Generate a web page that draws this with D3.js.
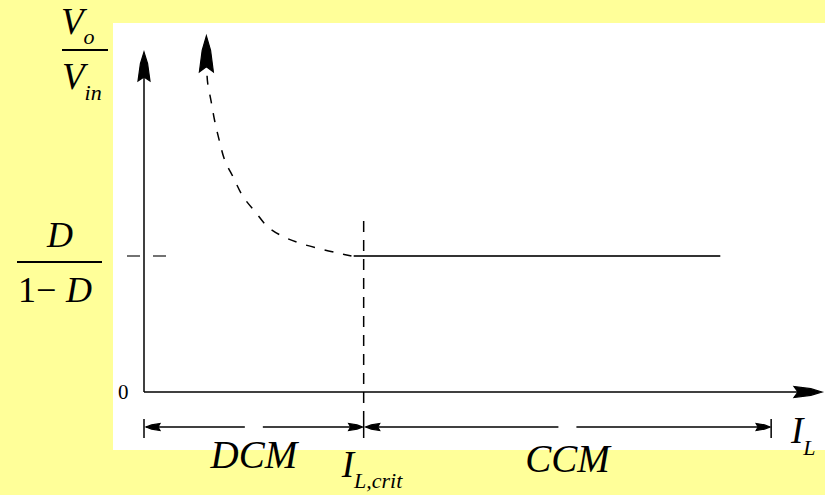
<!DOCTYPE html>
<html>
<head>
<meta charset="utf-8">
<script src="https://cdn.jsdelivr.net/npm/d3@7"></script>
<style>
  body { margin: 0; background: #ffff99; }
  svg { display: block; }
</style>
</head>
<body>
<svg id="chart" width="825" height="495"></svg>
<script>
// DCM branch of the curve (I_L, Vo/Vin)
var dcmX = [0.93, 0.94, 0.99, 1.04, 1.11, 1.19, 1.32, 1.46, 1.64, 1.83, 2.05, 2.30, 2.62, 2.89, 3.06];
var dcmY = [3.72, 3.63, 3.42, 3.20, 2.96, 2.73, 2.52, 2.30, 2.12, 1.94, 1.83, 1.75, 1.68, 1.63, 1.60];
var dcmTip = [0.92, 4.19];

// CCM branch: flat at D/(1-D)
var iCrit = 3.24;
var ccmLevel = 1.60;
var ccmEnd = 8.50;
var rangeEnd = 9.25;

var xMax = 10;
var yMax = 4;
var modeNames = ['DCM', 'CCM'];
var zeroLabel = '0';

var svg = d3.select('#chart');

var x = d3.scaleLinear().domain([0, xMax]).range([144, 822]);
var y = d3.scaleLinear().domain([0, yMax]).range([392, 52]);

// white plot panel
svg.append('rect')
  .attr('x', 113).attr('y', 23)
  .attr('width', 712).attr('height', 427)
  .attr('fill', '#fff');

function arrow(px, py, angle, len, half) {
  var p = 'M0,0 L' + (-len * 0.4) + ',' + (-half * 0.6) +
    ' L' + (-len) + ',' + (-half) +
    ' L' + (-len * 0.86) + ',0' +
    ' L' + (-len) + ',' + half +
    ' L' + (-len * 0.4) + ',' + (half * 0.6) + 'Z';
  svg.append('path')
    .attr('d', p)
    .attr('fill', '#000')
    .attr('stroke', '#000')
    .attr('stroke-width', 1.2)
    .attr('transform', 'translate(' + px + ',' + py + ') rotate(' + angle + ')');
}

function addText(px, py, size) {
  return svg.append('text')
    .attr('x', px).attr('y', py)
    .style('font-family', "'Liberation Serif'")
    .style('font-size', size + 'px')
    .style('fill', '#000');
}

// axes
svg.append('line')
  .attr('x1', x(0)).attr('y1', y(0))
  .attr('x2', x(xMax) - 20).attr('y2', y(0))
  .attr('stroke', '#000').attr('stroke-width', 1.5);
arrow(x(xMax), y(0), 0, 28, 5.5);

svg.append('line')
  .attr('x1', x(0)).attr('y1', y(0))
  .attr('x2', x(0)).attr('y2', y(yMax) + 20)
  .attr('stroke', '#000').attr('stroke-width', 1.5);
arrow(x(0), y(yMax), -90, 29, 6);

// dashed tick at D/(1-D) on the y axis
svg.append('line')
  .attr('x1', x(0) - 17).attr('y1', y(ccmLevel))
  .attr('x2', x(0) + 22).attr('y2', y(ccmLevel))
  .attr('stroke', '#444').attr('stroke-width', 1.5)
  .attr('stroke-dasharray', '13,13');

// DCM curve
var pts = dcmX.map(function (d, i) { return [d, dcmY[i]]; });
var line = d3.line()
  .x(function (d) { return x(d[0]); })
  .y(function (d) { return y(d[1]); })
  .curve(d3.curveCatmullRom);

svg.append('path')
  .attr('d', line(pts))
  .attr('fill', 'none')
  .attr('stroke', '#000')
  .attr('stroke-width', 1.5)
  .attr('stroke-dasharray', '9,10');
arrow(x(dcmTip[0]), y(dcmTip[1]), -90, 36, 7);

// CCM flat line
svg.append('line')
  .attr('x1', x(iCrit) - 10).attr('y1', y(ccmLevel))
  .attr('x2', x(ccmEnd)).attr('y2', y(ccmLevel))
  .attr('stroke', '#333').attr('stroke-width', 2);

// critical current boundary
var dimY = y(0) + 35;
svg.append('line')
  .attr('x1', x(iCrit)).attr('y1', y(ccmLevel) - 35)
  .attr('x2', x(iCrit)).attr('y2', dimY - 9)
  .attr('stroke', '#000').attr('stroke-width', 1.5)
  .attr('stroke-dasharray', '11,8');
svg.append('line')
  .attr('x1', x(iCrit)).attr('y1', dimY - 9)
  .attr('x2', x(iCrit)).attr('y2', dimY + 11)
  .attr('stroke', '#000').attr('stroke-width', 1.5);

// dimension lines for the two modes
[[0, iCrit], [iCrit, rangeEnd]].forEach(function (r) {
  var a = x(r[0]), b = x(r[1]), m = (a + b) / 2;
  [[a + 2, m - 9], [m + 9, b - 2]].forEach(function (s) {
    svg.append('line')
      .attr('x1', s[0]).attr('y1', dimY)
      .attr('x2', s[1]).attr('y2', dimY)
      .attr('stroke', '#000').attr('stroke-width', 1.5);
  });
  arrow(a + 2, dimY, 180, 14, 3.5);
  arrow(b - 1, dimY, 0, 14, 3.5);
  [a, b].forEach(function (t) {
    if (t === x(iCrit)) return;
    svg.append('line')
      .attr('x1', t).attr('y1', dimY - 8)
      .attr('x2', t).attr('y2', dimY + 11)
      .attr('stroke', '#000').attr('stroke-width', 1.5);
  });
});

// labels
addText(118, y(0) + 7, 21).text(zeroLabel);

var modeX = [(x(0) + x(iCrit)) / 2, (x(iCrit) + x(rangeEnd)) / 2];
var modeBase = [468, 472];
modeNames.forEach(function (m, i) {
  addText(modeX[i], modeBase[i], 39)
    .attr('text-anchor', 'middle')
    .style('font-style', 'italic')
    .text(m);
});

function subText(px, py, main, sub, size, subSize, dy) {
  var t = addText(px, py, size).style('font-style', 'italic');
  t.append('tspan').text(main);
  t.append('tspan')
    .attr('dy', dy)
    .style('font-size', subSize + 'px')
    .text(sub);
}

subText(x(iCrit) - 22, 477, 'I', 'L,crit', 37, 22, 11);
subText(791, 443, 'I', 'L', 37, 22, 12);

// Vo / Vin fraction
subText(61, 34, 'V', 'o', 37, 22, 10);
subText(62, 89, 'V', 'in', 37, 22, 11);
svg.append('line')
  .attr('x1', 62).attr('y1', 50).attr('x2', 108).attr('y2', 50)
  .attr('stroke', '#000').attr('stroke-width', 2);

// D / (1 - D) fraction
addText(60, 247, 36)
  .attr('text-anchor', 'middle')
  .style('font-style', 'italic')
  .text('D');
svg.append('line')
  .attr('x1', 17).attr('y1', 262).attr('x2', 102).attr('y2', 262)
  .attr('stroke', '#000').attr('stroke-width', 2);
var den = addText(18, 302, 36);
den.append('tspan').text('1');
den.append('tspan').attr('x', 36).text('\u2212');
den.append('tspan').attr('x', 66).style('font-style', 'italic').text('D');
</script>
</body>
</html>
